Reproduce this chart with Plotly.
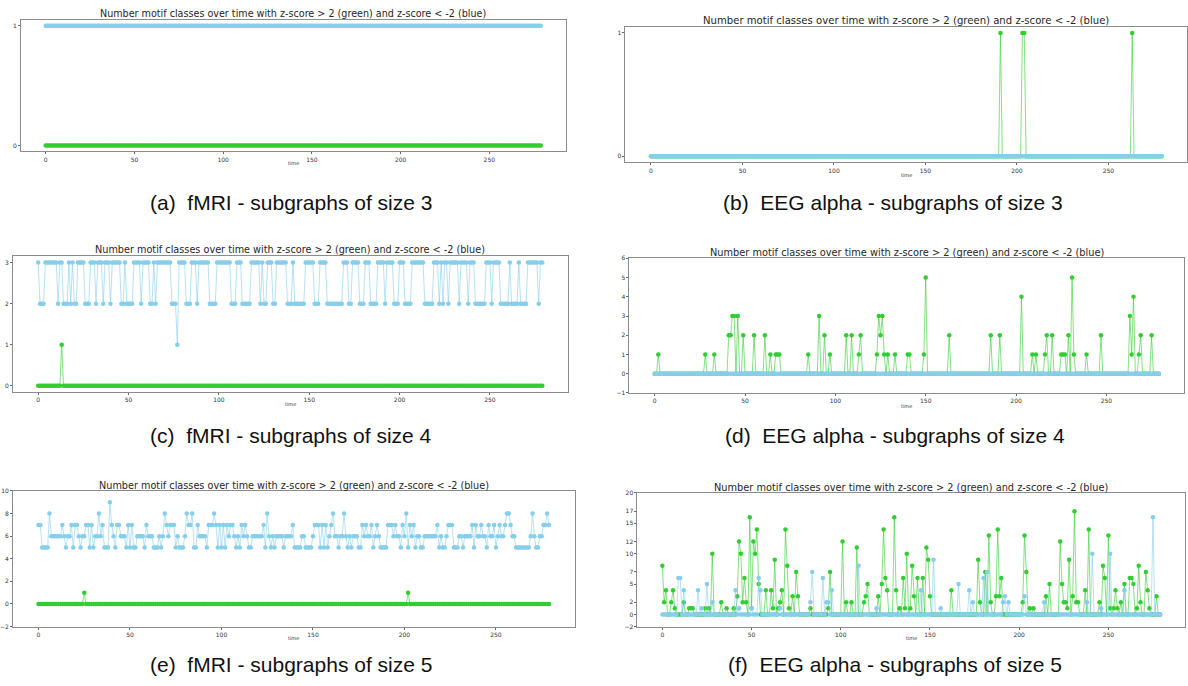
import plotly.graph_objects as go

W, H = 1188, 686
N = 280
time = list(range(N))

# ---------------- data ----------------
# (a) fMRI size 3
a_green = [0] * N
a_blue = [1] * N
# (b) EEG alpha size 3
b_green_nonzero = {191: 1, 203: 1, 204: 1, 263: 1}
b_blue = [0] * N
# (c) fMRI size 4
c_green_nonzero = {13: 1}
c_blue_runs = [
    (3, 1), (2, 3), (3, 7), (2, 1), (3, 2), (2, 3), (3, 1), (2, 1), (3, 1), (2, 2),
    (3, 4), (2, 3), (3, 3), (2, 1), (3, 3), (2, 1), (3, 3), (2, 1), (3, 5), (2, 2),
    (3, 1), (2, 4), (3, 4), (2, 1), (3, 4), (2, 2), (3, 1), (2, 1), (3, 8), (2, 3),
    (1, 1), (3, 4), (2, 3), (3, 3), (2, 1), (3, 6), (2, 4), (3, 8), (2, 3), (3, 3),
    (2, 5), (3, 5), (2, 1), (3, 1), (2, 2), (3, 3), (2, 2), (3, 6), (2, 3), (3, 1),
    (2, 6), (3, 5), (2, 3), (3, 4), (2, 9), (3, 3), (2, 2), (3, 4), (2, 3), (3, 3),
    (2, 4), (3, 4), (2, 1), (3, 4), (2, 3), (3, 3), (2, 4), (3, 7), (2, 5), (3, 3),
    (2, 1), (3, 1), (2, 1), (3, 2), (2, 1), (3, 5), (2, 1), (3, 4), (2, 1), (3, 3),
    (2, 6), (3, 3), (2, 1), (3, 4), (2, 5), (3, 1), (2, 4), (3, 1), (2, 4), (3, 6),
    (2, 1), (3, 2),
]
# (d) EEG alpha size 4
d_green_nonzero = {
    2: 1, 28: 1, 33: 1, 41: 2, 42: 2, 43: 3, 44: 3, 46: 3, 49: 2, 55: 2, 61: 2,
    64: 1, 67: 1, 68: 1, 69: 1, 85: 1, 91: 3, 94: 2, 97: 1, 106: 2, 109: 2,
    113: 1, 114: 2, 123: 1, 124: 3, 125: 2, 126: 3, 127: 1, 129: 1, 133: 1,
    140: 1, 141: 1, 149: 1, 150: 5, 163: 2, 186: 2, 191: 2, 203: 4, 209: 1,
    211: 1, 216: 1, 217: 2, 220: 2, 225: 1, 226: 1, 227: 1, 229: 2, 231: 5,
    232: 1, 239: 1, 247: 2, 263: 3, 264: 1, 265: 4, 268: 1, 269: 2, 275: 2,
}
d_blue = [0] * N
# (e) fMRI size 5
e_green_nonzero = {25: 1, 202: 1}
e_blue_digits = (
    "7755558666" "6667656675" "7765667757" "5668675559" "7657766657"
    "5755666657" "6665556568" "7677756555" "6877855766" "6657778757"
    "5757677656" "5767655666" "6667586565" "6666566667" "5555665555"
    "6777575756" "7866566865" "6566655767" "6675676555" "5777676657"
    "6857675665" "5666666675" "6556777555" "6656666757" "6676657667"
    "5676678876" "6555555556" "8655667787"
)
# (f) EEG alpha size 5
f_green_nonzero = {
    0: 8, 1: 2, 2: 4, 5: 2, 6: 4, 7: 1, 12: 2, 15: 1, 16: 1, 17: 1, 24: 1, 26: 1,
    28: 10, 33: 2, 36: 1, 40: 1, 42: 3, 43: 12, 44: 10, 45: 2, 46: 6, 47: 2,
    49: 16, 50: 1, 51: 12, 52: 10, 53: 14, 54: 5, 58: 4, 61: 4, 62: 1, 63: 9,
    65: 1, 66: 2, 67: 4, 69: 14, 70: 8, 71: 1, 73: 3, 75: 7, 76: 3, 83: 1,
    93: 1, 94: 7, 101: 12, 103: 2, 106: 2, 109: 11, 113: 2, 114: 3, 115: 5,
    121: 3, 123: 5, 124: 14, 125: 6, 126: 4, 130: 16, 131: 4, 133: 1, 135: 6,
    136: 1, 137: 10, 139: 1, 140: 8, 141: 3, 143: 6, 146: 6, 148: 11, 149: 9,
    150: 3, 162: 4, 177: 9, 178: 2, 181: 7, 183: 13, 184: 2, 187: 3, 188: 14,
    189: 3, 190: 6, 202: 2, 203: 13, 204: 7, 206: 1, 208: 1, 215: 3, 217: 5,
    223: 12, 224: 5, 225: 2, 226: 2, 227: 1, 228: 9, 230: 3, 231: 17, 232: 2,
    233: 2, 237: 4, 239: 14, 245: 2, 247: 8, 248: 6, 250: 13, 251: 1, 253: 1,
    254: 4, 255: 1, 257: 2, 259: 5, 262: 6, 263: 6, 264: 5, 266: 1, 267: 8,
    268: 2, 271: 7, 272: 4, 273: 1, 277: 3,
}
f_blue_nonzero = {
    9: 6, 10: 6, 12: 4, 20: 4, 22: 1, 25: 5, 28: 2, 41: 4, 43: 1, 50: 1, 54: 6,
    55: 4, 66: 1, 83: 2, 84: 7, 90: 6, 92: 2, 93: 2, 95: 4, 110: 8, 120: 1,
    145: 4, 152: 9, 156: 1, 166: 5, 172: 4, 174: 2, 180: 6, 182: 7, 191: 2,
    192: 3, 194: 2, 203: 3, 214: 2, 238: 2, 241: 10, 246: 1, 251: 10, 259: 4,
    275: 16,
}

x_ticks = [0, 50, 100, 150, 200, 250]
title_text = "Number motif classes over time with z-score > 2 (green) and z-score < -2 (blue)"
captions = [
    "(a)\u00a0\u00a0fMRI - subgraphs of size 3",
    "(b)\u00a0\u00a0EEG alpha - subgraphs of size 3",
    "(c)\u00a0\u00a0fMRI - subgraphs of size 4",
    "(d)\u00a0\u00a0EEG alpha - subgraphs of size 4",
    "(e)\u00a0\u00a0fMRI - subgraphs of size 5",
    "(f)\u00a0\u00a0EEG alpha - subgraphs of size 5",
]


def from_sparse(d):
    return [d.get(t, 0) for t in time]


def from_runs(runs):
    out = []
    for v, n in runs:
        out.extend([v] * n)
    return out


series = [
    (a_green, a_blue),
    (from_sparse(b_green_nonzero), b_blue),
    (from_sparse(c_green_nonzero), from_runs(c_blue_runs)),
    (from_sparse(d_green_nonzero), d_blue),
    (from_sparse(e_green_nonzero), [int(ch) for ch in e_blue_digits]),
    (from_sparse(f_green_nonzero), from_sparse(f_blue_nonzero)),
]

# ---------------- layout (pixel boxes) ----------------
panels = [
    dict(box=(20, 16, 565, 149), title_y=10, time_y=161, cap=(290, 201), tsize=9.6,
         yr=(-0.05, 1.05), yt=[0, 1]),
    dict(box=(625, 23, 1187, 160), title_y=17, time_y=173, cap=(893, 201), tsize=10.1,
         yr=(-0.05, 1.05), yt=[0, 1]),
    dict(box=(12, 255, 567, 392), title_y=248, time_y=404, cap=(290, 436), tsize=9.7,
         yr=(-0.15, 3.15), yt=[0, 1, 2, 3]),
    dict(box=(629, 257, 1184, 393), title_y=251, time_y=406, cap=(895, 436), tsize=9.8,
         yr=(-1, 6), yt=[-1, 0, 1, 2, 3, 4, 5, 6]),
    dict(box=(12, 492, 574, 629), title_y=486, time_y=641, cap=(290, 667), tsize=9.7,
         yr=(-2, 10), yt=[-2, 0, 2, 4, 6, 8, 10]),
    dict(box=(637, 494, 1185, 629), title_y=488, time_y=641, cap=(895, 667), tsize=9.8,
         yr=(-2, 20), yt=[-2, 0, 2, 5, 7, 10, 12, 15, 17, 20]),
]

GREEN = "#32CD32"
BLUE = "#87CEEB"
GREEN_LINE = "rgba(50,205,50,0.6)"
BLUE_LINE = "rgba(135,206,235,0.6)"

fig = go.Figure()
annotations = []
layout_axes = {}

for i, (p, (g, b)) in enumerate(zip(panels, series), start=1):
    x0, y0, x1, y1 = p["box"]
    xa = "x" if i == 1 else f"x{i}"
    ya = "y" if i == 1 else f"y{i}"
    fig.add_trace(go.Scatter(
        x=time, y=g, mode="lines+markers", xaxis=xa, yaxis=ya, showlegend=False,
        line=dict(color=GREEN_LINE, width=1),
        marker=dict(color=GREEN, size=4.5, line=dict(width=0)),
    ))
    fig.add_trace(go.Scatter(
        x=time, y=b, mode="lines+markers", xaxis=xa, yaxis=ya, showlegend=False,
        line=dict(color=BLUE_LINE, width=1),
        marker=dict(color=BLUE, size=4.5, line=dict(width=0)),
    ))
    axis_common = dict(
        showgrid=False, zeroline=False, showline=True, mirror=True,
        linecolor="#8c8c8c", linewidth=1, ticks="outside", ticklen=2,
        tickcolor="#666", tickwidth=0.8,
        tickfont=dict(family="DejaVu Sans", size=6, color="#333"),
    )
    layout_axes["xaxis" if i == 1 else f"xaxis{i}"] = dict(
        domain=[x0 / W, x1 / W], anchor=ya, range=[-13.95, 292.95],
        tickmode="array", tickvals=x_ticks, **axis_common,
    )
    layout_axes["yaxis" if i == 1 else f"yaxis{i}"] = dict(
        domain=[1 - y1 / H, 1 - y0 / H], anchor=xa, range=list(p["yr"]),
        tickmode="array", tickvals=p["yt"], **axis_common,
    )
    cx = (x0 + x1) / 2
    annotations.append(dict(
        text=title_text, x=cx / W, y=1 - p["title_y"] / H, xref="paper", yref="paper",
        showarrow=False, xanchor="center", yanchor="middle",
        font=dict(family="DejaVu Sans", size=p["tsize"], color="#262626"),
    ))
    annotations.append(dict(
        text="time", x=cx / W, y=1 - p["time_y"] / H, xref="paper", yref="paper",
        showarrow=False, xanchor="center", yanchor="middle",
        font=dict(family="DejaVu Sans", size=5, color="#333"),
    ))
    annotations.append(dict(
        text=captions[i - 1], x=p["cap"][0] / W, y=1 - p["cap"][1] / H,
        xref="paper", yref="paper", showarrow=False, xanchor="center", yanchor="middle",
        font=dict(family="Liberation Sans", size=21, color="#111"),
    ))

fig.update_layout(
    width=W, height=H, margin=dict(l=0, r=0, t=0, b=0),
    paper_bgcolor="white", plot_bgcolor="white",
    annotations=annotations, **layout_axes,
)

fig.write_html(
    "out.html",
    config={"displayModeBar": False},
    post_script="document.body.style.margin='0';document.body.style.overflow='hidden';",
)
